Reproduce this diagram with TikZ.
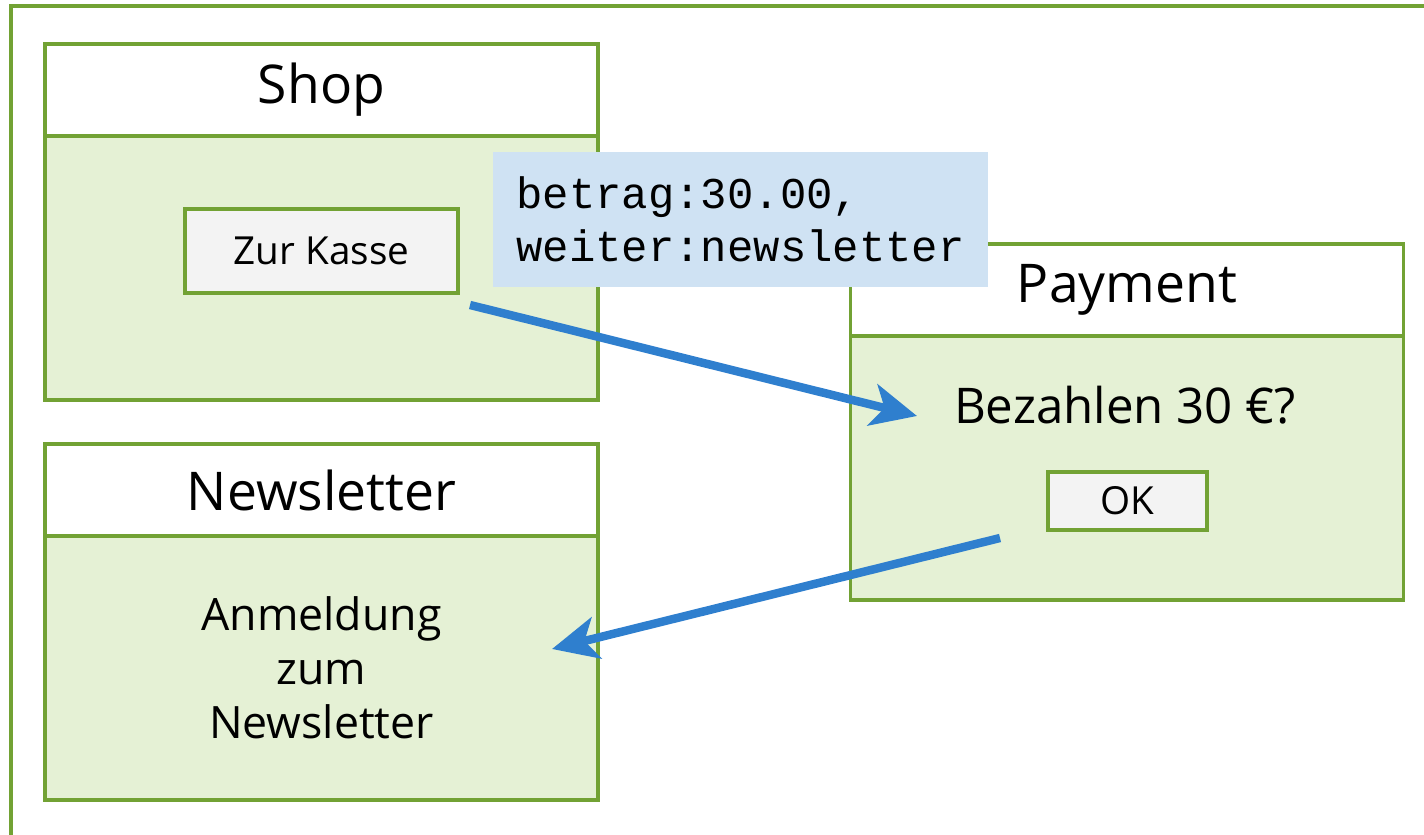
\documentclass[tikz,border=0pt]{standalone}
\usepackage{fontspec}
\setmainfont{Open Sans}
\setmonofont{Liberation Mono}
\usetikzlibrary{positioning, arrows.meta}
\definecolor{framegreen}{HTML}{72A234}
\definecolor{panelgreen}{HTML}{E5F1D5}
\definecolor{btngray}{HTML}{F3F3F3}
\definecolor{codeblue}{HTML}{CFE2F3}
\definecolor{arrowblue}{HTML}{2F7FCE}
\tikzset{
    header/.style={
        rectangle,
        draw=framegreen,
        line width=1pt,
        fill=white,
        outer sep=0pt,
        inner sep=0pt,
        minimum width=5.53cm,
        minimum height=0.92cm,
        font=\fontsize{15.2}{18}\selectfont,
    },
    panel/.style={
        header,
        fill=panelgreen,
        minimum height=2.64cm,
        font=\fontsize{12.7}{15.4}\selectfont,
    },
    button/.style={
        rectangle,
        draw=framegreen,
        line width=1pt,
        fill=btngray,
        inner sep=0pt,
        font=\fontsize{11}{13}\selectfont,
    },
    codebox/.style={
        rectangle,
        fill=codeblue,
        inner sep=0pt,
        minimum width=4.95cm,
        minimum height=1.35cm,
        align=left,
        font=\ttfamily\fontsize{12.5}{15}\selectfont,
    },
    flow/.style={
        -{Stealth[length=13pt, width=12pt, inset=3.5pt]},
        arrowblue,
        line width=2.4pt,
    },
}
\begin{document}
\begin{tikzpicture}
    \useasboundingbox (0,0) rectangle (14.24,-8.35);
    % outer frame
    \draw[framegreen, line width=1.3pt] (0.11,-8.40) -- (0.11,-0.06) -- (14.30,-0.06);

    % shop
    \node [header] (Shop) at (3.215,-0.90) {Shop};
    \node [panel] (ShopBody) [below=0pt of Shop] {};
    \node [button, minimum width=2.73cm, minimum height=0.84cm] (Kasse) at (3.215,-2.51) {Zur Kasse};

    % newsletter
    \node [header] (Newsletter) at (3.215,-4.90) {Newsletter};
    \node [panel, align=center] (NewsBody) [below=0pt of Newsletter] {Anmeldung\\zum\\Newsletter};

    % payment
    \node [header] (Payment) at (11.27,-2.90) {Payment};
    \node [panel] (PayBody) [below=0pt of Payment] {};
    \node [font=\fontsize{14}{17}\selectfont] (Bezahlen) at (11.25,-4.05) {Bezahlen 30 €?};
    \node [button, minimum width=1.59cm, minimum height=0.58cm] (OK) at (11.275,-5.01) {OK};

    % parameters
    \node [codebox] (Params) at (7.405,-2.195) {betrag:30.00,\\weiter:newsletter};

    \coordinate (KasseOut) at (4.70,-3.05);
    \coordinate (PayIn) at (9.17,-4.16);
    \coordinate (OKOut) at (10.00,-5.38);
    \coordinate (NewsIn) at (5.52,-6.49);
    \draw [flow] (KasseOut) -- (PayIn);
    \draw [flow] (OKOut) -- (NewsIn);
\end{tikzpicture}
\end{document}
